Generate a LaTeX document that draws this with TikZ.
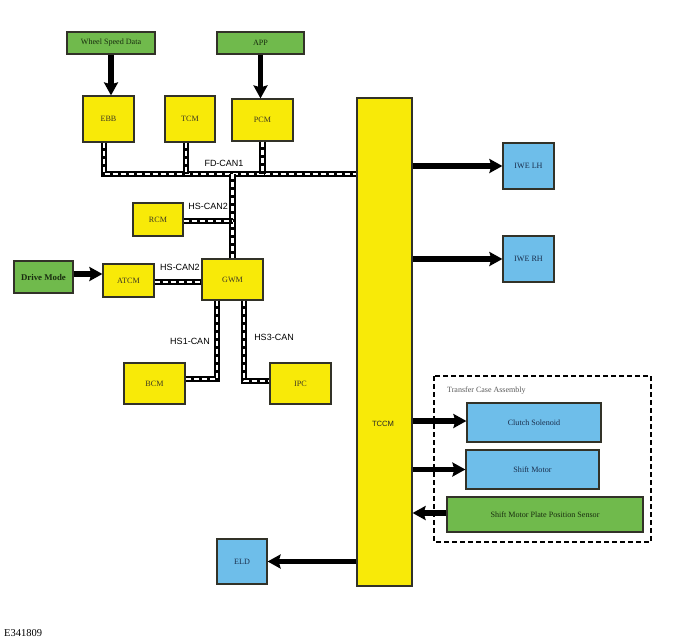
\documentclass[tikz,border=0pt]{standalone}
\usepackage{fontspec}
\setmainfont{Liberation Serif}
\newfontfamily\arialfont{Liberation Sans}
\usetikzlibrary{arrows.meta}
\definecolor{boxyellow}{RGB}{248,234,8}
\definecolor{boxgreen}{RGB}{112,186,76}
\definecolor{boxblue}{RGB}{110,190,234}
\definecolor{boxedge}{RGB}{50,50,40}
\definecolor{ytext}{RGB}{60,55,35}
\definecolor{btext}{RGB}{25,45,75}
\definecolor{gtext}{RGB}{25,45,15}
\tikzset{
  basebox/.style={draw=boxedge, line width=1.2pt, inner sep=0pt, font=\fontsize{8.1}{9.5}\selectfont},
  ybox/.style={basebox, fill=boxyellow, text=ytext},
  gbox/.style={basebox, fill=boxgreen, text=gtext},
  bbox/.style={basebox, fill=boxblue, text=btext},
  bus/.style={line width=6.5pt, black, postaction={draw=white, line width=2.4pt, dash pattern=on 5pt off 3pt}},
  bigarrow/.style={line width=5.5pt, black, -{Stealth[length=13pt,width=14pt,inset=2pt]}},
  buslabel/.style={font=\arialfont\fontsize{9}{10}\selectfont, inner sep=0pt},
}
\begin{document}
\begin{tikzpicture}[x=1pt,y=-1pt]
\useasboundingbox (0,0) rectangle (674,642);
% top inputs
\node[gbox, minimum width=88pt, minimum height=22pt] (wsd) at (111,43) {Wheel Speed Data};
\node[gbox, minimum width=87pt, minimum height=22pt] (app) at (260.5,43) {APP};
% modules
\node[ybox, minimum width=51pt, minimum height=46pt] (ebb) at (108.5,119) {EBB};
\node[ybox, minimum width=50pt, minimum height=46pt] (tcm) at (190,119) {TCM};
\node[ybox, minimum width=61pt, minimum height=42pt] (pcm) at (262.5,120) {PCM};
\node[ybox, minimum width=55pt, minimum height=488pt] (tccm) at (384.5,342) {};
\node[font=\arialfont\fontsize{7.6}{9}\selectfont, text=black!85, inner sep=0pt] (tccmlabel) at (383,424) {TCCM};
\node[ybox, minimum width=50pt, minimum height=33pt] (rcm) at (158,219.5) {RCM};
\node[ybox, minimum width=61pt, minimum height=41pt] (gwm) at (232.5,279.5) {GWM};
\node[ybox, minimum width=51pt, minimum height=33pt] (atcm) at (128.5,280.5) {ATCM};
\node[gbox, minimum width=59pt, minimum height=32pt, font=\bfseries\fontsize{8.8}{10}\selectfont] (dm) at (43.5,277) {Drive Mode};
\node[ybox, minimum width=61pt, minimum height=41pt] (bcm) at (154.5,383.5) {BCM};
\node[ybox, minimum width=61pt, minimum height=41pt] (ipc) at (300.5,383.5) {IPC};
% outputs
\node[bbox, minimum width=51pt, minimum height=46pt] (iwelh) at (528.5,166) {IWE LH};
\node[bbox, minimum width=51pt, minimum height=46pt] (iwerh) at (528.5,259) {IWE RH};
\node[bbox, minimum width=50pt, minimum height=45pt] (eld) at (242,561.5) {ELD};
% transfer case assembly
\draw[black, line width=1.2pt, dash pattern=on 5pt off 3pt] (434,376) rectangle (651,542);
\node[anchor=west, inner sep=0pt, text=black!65, font=\fontsize{8}{9}\selectfont] (tca) at (447,391) {Transfer Case Assembly};
\node[bbox, minimum width=134pt, minimum height=39pt] (clutch) at (534,422.5) {Clutch Solenoid};
\node[bbox, minimum width=133pt, minimum height=39pt] (shift) at (532.5,469.5) {Shift Motor};
\node[gbox, minimum width=196pt, minimum height=35pt] (sensor) at (545,514.5) {Shift Motor Plate Position Sensor};
% bus coordinates
\coordinate (fd) at (0,174);
% buses
\draw[bus] ([xshift=-4.5pt]ebb.south) |- (tccm.west |- fd);
\draw[bus] ([xshift=-4pt]tcm.south) -- ([xshift=-4pt]tcm.south |- fd);
\draw[bus] (pcm.south) -- (pcm.south |- fd);
\draw[bus] (gwm.north |- fd) -- (gwm.north);
\draw[bus] ([yshift=-1.5pt]rcm.east) -- ([yshift=-1.5pt]rcm.east -| gwm.north);
\draw[bus] ([yshift=-1.5pt]atcm.east) -- ([yshift=-1.5pt]atcm.east -| gwm.west);
\draw[bus] ([xshift=-15.5pt]gwm.south) |- ([yshift=4.5pt]bcm.east);
\draw[bus] ([xshift=11.5pt]gwm.south) |- ([yshift=2.5pt]ipc.west);
% bus labels
\node[buslabel] (lfd) at (224,163) {FD-CAN1};
\node[buslabel, anchor=east] (lhs2a) at (228,206) {HS-CAN2};
\node[buslabel] (lhs2b) at (180,267) {HS-CAN2};
\node[buslabel] (lhs1) at (190,341) {HS1-CAN};
\node[buslabel] (lhs3) at (274,337) {HS3-CAN};
% arrows
\draw[bigarrow] (wsd.south) -- (wsd.south |- ebb.north);
\draw[bigarrow] (app.south) -- (app.south |- pcm.north);
\draw[bigarrow] ([yshift=3pt]dm.east) -- ([yshift=3pt]dm.east -| atcm.west);
\draw[bigarrow] (iwelh.west -| tccm.east) -- (iwelh.west);
\draw[bigarrow] (iwerh.west -| tccm.east) -- (iwerh.west);
\draw[bigarrow] ([yshift=1.5pt]clutch.west -| tccm.east) -- ([yshift=1.5pt]clutch.west);
\draw[bigarrow] (shift.west -| tccm.east) -- (shift.west);
\draw[bigarrow] ([yshift=1.5pt]sensor.west) -- ([yshift=1.5pt]sensor.west -| tccm.east);
\draw[bigarrow] (eld.east -| tccm.west) -- (eld.east);
% figure id
\node[anchor=west, inner sep=0pt, font=\fontsize{10.5}{12}\selectfont] (fig) at (4,633) {E341809};
\end{tikzpicture}
\end{document}
